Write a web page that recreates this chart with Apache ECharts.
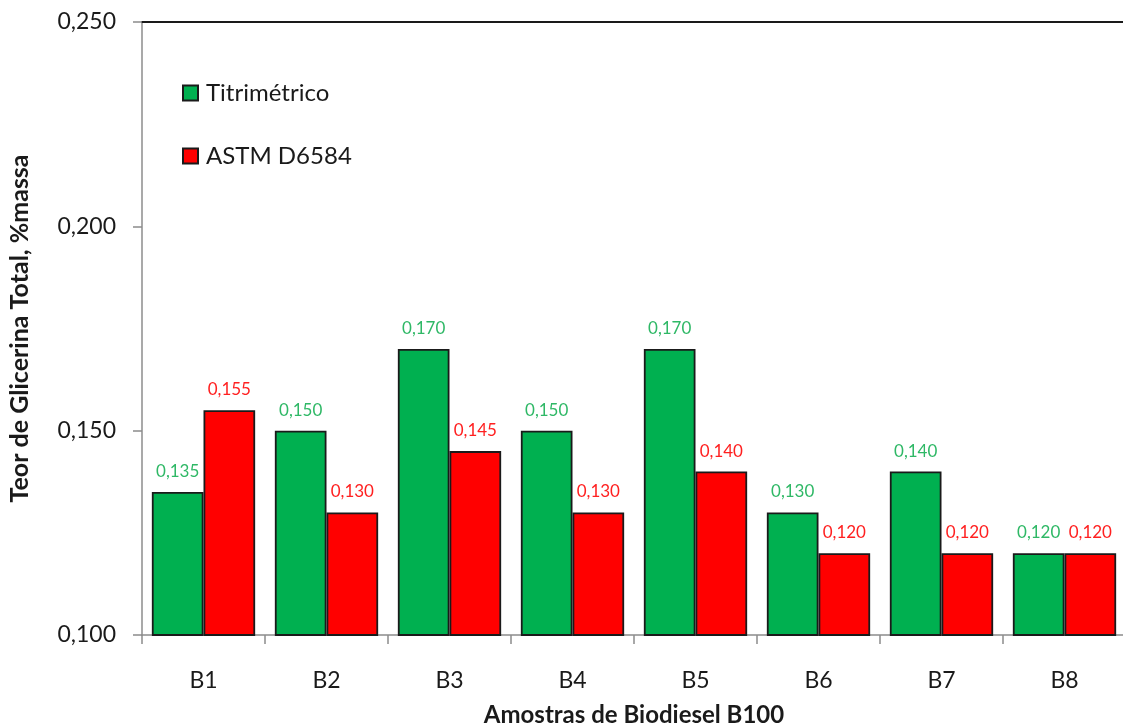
<!DOCTYPE html>
<html>
<head>
<meta charset="utf-8">
<script src="https://cdn.jsdelivr.net/npm/echarts@6/dist/echarts.min.js"></script>
<style>html,body{margin:0;padding:0;background:#fff;}#c{width:1123px;height:724px;}</style>
</head>
<body>
<div id="c"></div>
<script>
const categories = ['B1','B2','B3','B4','B5','B6','B7','B8'];
const titrimetrico = [0.135, 0.150, 0.170, 0.150, 0.170, 0.130, 0.140, 0.120];
const astm = [0.155, 0.130, 0.145, 0.130, 0.140, 0.120, 0.120, 0.120];
const seriesNames = ['Titrimétrico', 'ASTM D6584'];
const yTicks = [0.100, 0.150, 0.200, 0.250];

const FONT = 'Lato';
const fmt = v => v.toFixed(3).replace('.', ',');
const chart = echarts.init(document.getElementById('c'));
chart.setOption({
  animation: false,
  backgroundColor: '#fff',
  textStyle: { fontFamily: FONT },
  grid: { left: 142, right: -3, top: 22, bottom: 89, containLabel: false, outerBoundsMode: 'none' },
  legend: {
    orient: 'vertical', left: 182, top: 81, itemGap: 39, padding: 0,
    itemWidth: 15, itemHeight: 15,
    icon: 'rect',
    textStyle: { fontSize: 24, color: '#1a1a1a', fontFamily: FONT, padding: [0,0,0,3] },
    data: seriesNames
  },
  xAxis: [{
    type: 'category', data: categories,
    axisLine: { lineStyle: { color: '#8c8c8c', width: 1.5 } },
    axisTick: { show: true, length: 9, lineStyle: { color: '#8c8c8c', width: 1.5 } },
    axisLabel: { fontSize: 23, color: '#1a1a1a', margin: 34 },
    name: 'Amostras de Biodiesel B100', nameLocation: 'middle', nameGap: 68,
    nameTextStyle: { fontSize: 24, fontWeight: 'bold', color: '#1a1a1a' }
  }, {
    type: 'category', data: categories, position: 'top',
    axisLine: { lineStyle: { color: '#1a1a1a', width: 2 } },
    axisTick: { show: false }, axisLabel: { show: false }
  }],
  yAxis: {
    type: 'value', min: yTicks[0], max: yTicks[yTicks.length-1], interval: 0.05,
    axisLine: { show: true, lineStyle: { color: '#8c8c8c', width: 1.5 } },
    axisTick: { show: true, length: 9, lineStyle: { color: '#8c8c8c', width: 1.5 } },
    splitLine: { show: false },
    axisLabel: { fontSize: 23, color: '#1a1a1a', margin: 26, formatter: fmt },
    name: 'Teor de Glicerina Total, %massa', nameLocation: 'middle', nameGap: 110,
    nameTextStyle: { fontSize: 25, fontWeight: 'bold', color: '#1a1a1a' }
  },
  series: [{
    name: seriesNames[0], type: 'bar', data: titrimetrico,
    barGap: '0%', barCategoryGap: '16%',
    itemStyle: { color: '#00B050', borderColor: '#1a1a1a', borderWidth: 1.8 },
    label: { show: true, position: 'top', distance: 12, fontSize: 17, color: '#2fb866', formatter: p => fmt(p.value) }
  }, {
    name: seriesNames[1], type: 'bar', data: astm,
    barGap: '0%', barCategoryGap: '16%',
    itemStyle: { color: '#FF0000', borderColor: '#1a1a1a', borderWidth: 1.8 },
    label: { show: true, position: 'top', distance: 12, fontSize: 17, color: '#ff2020', formatter: p => fmt(p.value) }
  }]
});
</script>
</body>
</html>
